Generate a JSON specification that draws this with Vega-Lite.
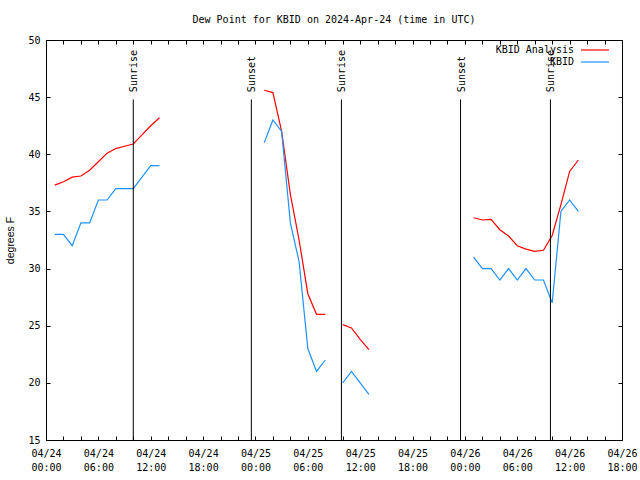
{
  "$schema": "https://vega.github.io/schema/vega-lite/v6.json",
  "width": 576,
  "height": 400,
  "autosize": "none",
  "padding": {"left": 46, "top": 40, "right": 18, "bottom": 40},
  "background": "white",
  "title": {
    "text": "Dew Point for KBID on 2024-Apr-24 (time in UTC)",
    "font": "DejaVu Sans Mono",
    "fontSize": 10,
    "fontWeight": "normal",
    "color": "black",
    "anchor": "middle",
    "offset": 10
  },
  "config": {
    "view": {"stroke": "black", "strokeWidth": 1},
    "axis": {
      "grid": false,
      "domain": false,
      "tickColor": "black",
      "tickSize": -4,
      "labelColor": "black",
      "labelFont": "DejaVu Sans Mono",
      "labelFontSize": 10
    }
  },
  "datasets": {
    "obs": [
      {"hour": 1, "dewpoint": 37.3, "series": "KBID Analysis", "segment": 1},
      {"hour": 2, "dewpoint": 37.6, "series": "KBID Analysis", "segment": 1},
      {"hour": 3, "dewpoint": 38.0, "series": "KBID Analysis", "segment": 1},
      {"hour": 4, "dewpoint": 38.1, "series": "KBID Analysis", "segment": 1},
      {"hour": 5, "dewpoint": 38.6, "series": "KBID Analysis", "segment": 1},
      {"hour": 6, "dewpoint": 39.35, "series": "KBID Analysis", "segment": 1},
      {"hour": 7, "dewpoint": 40.1, "series": "KBID Analysis", "segment": 1},
      {"hour": 8, "dewpoint": 40.5, "series": "KBID Analysis", "segment": 1},
      {"hour": 9, "dewpoint": 40.7, "series": "KBID Analysis", "segment": 1},
      {"hour": 10, "dewpoint": 40.9, "series": "KBID Analysis", "segment": 1},
      {"hour": 11, "dewpoint": 41.7, "series": "KBID Analysis", "segment": 1},
      {"hour": 12, "dewpoint": 42.5, "series": "KBID Analysis", "segment": 1},
      {"hour": 13, "dewpoint": 43.2, "series": "KBID Analysis", "segment": 1},
      {"hour": 25, "dewpoint": 45.6, "series": "KBID Analysis", "segment": 2},
      {"hour": 26, "dewpoint": 45.4, "series": "KBID Analysis", "segment": 2},
      {"hour": 27, "dewpoint": 42.0, "series": "KBID Analysis", "segment": 2},
      {"hour": 28, "dewpoint": 36.5, "series": "KBID Analysis", "segment": 2},
      {"hour": 29, "dewpoint": 32.5, "series": "KBID Analysis", "segment": 2},
      {"hour": 30, "dewpoint": 27.8, "series": "KBID Analysis", "segment": 2},
      {"hour": 31, "dewpoint": 26.0, "series": "KBID Analysis", "segment": 2},
      {"hour": 32, "dewpoint": 26.0, "series": "KBID Analysis", "segment": 2},
      {"hour": 34, "dewpoint": 25.1, "series": "KBID Analysis", "segment": 3},
      {"hour": 35, "dewpoint": 24.8, "series": "KBID Analysis", "segment": 3},
      {"hour": 36, "dewpoint": 23.8, "series": "KBID Analysis", "segment": 3},
      {"hour": 37, "dewpoint": 22.9, "series": "KBID Analysis", "segment": 3},
      {"hour": 49, "dewpoint": 34.45, "series": "KBID Analysis", "segment": 4},
      {"hour": 50, "dewpoint": 34.25, "series": "KBID Analysis", "segment": 4},
      {"hour": 51, "dewpoint": 34.3, "series": "KBID Analysis", "segment": 4},
      {"hour": 52, "dewpoint": 33.4, "series": "KBID Analysis", "segment": 4},
      {"hour": 53, "dewpoint": 32.85, "series": "KBID Analysis", "segment": 4},
      {"hour": 54, "dewpoint": 32.0, "series": "KBID Analysis", "segment": 4},
      {"hour": 55, "dewpoint": 31.7, "series": "KBID Analysis", "segment": 4},
      {"hour": 56, "dewpoint": 31.5, "series": "KBID Analysis", "segment": 4},
      {"hour": 57, "dewpoint": 31.6, "series": "KBID Analysis", "segment": 4},
      {"hour": 58, "dewpoint": 32.9, "series": "KBID Analysis", "segment": 4},
      {"hour": 59, "dewpoint": 35.6, "series": "KBID Analysis", "segment": 4},
      {"hour": 60, "dewpoint": 38.5, "series": "KBID Analysis", "segment": 4},
      {"hour": 61, "dewpoint": 39.5, "series": "KBID Analysis", "segment": 4},
      {"hour": 1, "dewpoint": 33, "series": "KBID", "segment": 1},
      {"hour": 2, "dewpoint": 33, "series": "KBID", "segment": 1},
      {"hour": 3, "dewpoint": 32, "series": "KBID", "segment": 1},
      {"hour": 4, "dewpoint": 34, "series": "KBID", "segment": 1},
      {"hour": 5, "dewpoint": 34, "series": "KBID", "segment": 1},
      {"hour": 6, "dewpoint": 36, "series": "KBID", "segment": 1},
      {"hour": 7, "dewpoint": 36, "series": "KBID", "segment": 1},
      {"hour": 8, "dewpoint": 37, "series": "KBID", "segment": 1},
      {"hour": 9, "dewpoint": 37, "series": "KBID", "segment": 1},
      {"hour": 10, "dewpoint": 37, "series": "KBID", "segment": 1},
      {"hour": 11, "dewpoint": 38, "series": "KBID", "segment": 1},
      {"hour": 12, "dewpoint": 39, "series": "KBID", "segment": 1},
      {"hour": 13, "dewpoint": 39, "series": "KBID", "segment": 1},
      {"hour": 25, "dewpoint": 41, "series": "KBID", "segment": 2},
      {"hour": 26, "dewpoint": 43, "series": "KBID", "segment": 2},
      {"hour": 27, "dewpoint": 42, "series": "KBID", "segment": 2},
      {"hour": 28, "dewpoint": 34, "series": "KBID", "segment": 2},
      {"hour": 29, "dewpoint": 30.6, "series": "KBID", "segment": 2},
      {"hour": 30, "dewpoint": 23, "series": "KBID", "segment": 2},
      {"hour": 31, "dewpoint": 21, "series": "KBID", "segment": 2},
      {"hour": 32, "dewpoint": 22, "series": "KBID", "segment": 2},
      {"hour": 34, "dewpoint": 20, "series": "KBID", "segment": 3},
      {"hour": 35, "dewpoint": 21, "series": "KBID", "segment": 3},
      {"hour": 36, "dewpoint": 20, "series": "KBID", "segment": 3},
      {"hour": 37, "dewpoint": 19, "series": "KBID", "segment": 3},
      {"hour": 49, "dewpoint": 31, "series": "KBID", "segment": 4},
      {"hour": 50, "dewpoint": 30, "series": "KBID", "segment": 4},
      {"hour": 51, "dewpoint": 30, "series": "KBID", "segment": 4},
      {"hour": 52, "dewpoint": 29, "series": "KBID", "segment": 4},
      {"hour": 53, "dewpoint": 30, "series": "KBID", "segment": 4},
      {"hour": 54, "dewpoint": 29, "series": "KBID", "segment": 4},
      {"hour": 55, "dewpoint": 30, "series": "KBID", "segment": 4},
      {"hour": 56, "dewpoint": 29, "series": "KBID", "segment": 4},
      {"hour": 57, "dewpoint": 29, "series": "KBID", "segment": 4},
      {"hour": 58, "dewpoint": 27, "series": "KBID", "segment": 4},
      {"hour": 59, "dewpoint": 35, "series": "KBID", "segment": 4},
      {"hour": 60, "dewpoint": 36, "series": "KBID", "segment": 4},
      {"hour": 61, "dewpoint": 35, "series": "KBID", "segment": 4}
    ],
    "events": [
      {"hour": 10.0, "event": "Sunrise"},
      {"hour": 23.53, "event": "Sunset"},
      {"hour": 33.85, "event": "Sunrise"},
      {"hour": 47.5, "event": "Sunset"},
      {"hour": 57.8, "event": "Sunrise"}
    ]
  },
  "layer": [
    {
      "data": {"name": "obs"},
      "mark": {"type": "line", "strokeWidth": 1.2},
      "encoding": {
        "x": {
          "field": "hour",
          "type": "quantitative",
          "scale": {"domain": [0, 66], "nice": false, "zero": false},
          "axis": {
            "orient": "bottom",
            "values": [0, 2, 4, 6, 8, 10, 12, 14, 16, 18, 20, 22, 24, 26, 28, 30, 32, 34, 36, 38, 40, 42, 44, 46, 48, 50, 52, 54, 56, 58, 60, 62, 64, 66],
            "labelExpr": "datum.value % 6 == 0 ? ['04/' + (24 + floor(datum.value / 24)), ((datum.value % 24) < 10 ? '0' : '') + (datum.value % 24) + ':00'] : ''",
            "labelFlush": false,
            "labelOverlap": false,
            "labelPadding": 12,
            "labelLineHeight": 14,
            "title": null
          }
        },
        "y": {
          "field": "dewpoint",
          "type": "quantitative",
          "scale": {"domain": [15, 50], "nice": false, "zero": false},
          "axis": {
            "orient": "left",
            "values": [15, 20, 25, 30, 35, 40, 45, 50],
            "labelPadding": 10,
            "title": "degrees F",
            "titleFont": "Liberation Sans",
            "titleFontSize": 10.5,
            "titleFontWeight": "normal",
            "titleColor": "black",
            "titlePadding": 12
          }
        },
        "color": {
          "field": "series",
          "type": "nominal",
          "scale": {"domain": ["KBID Analysis", "KBID"], "range": ["#ff0000", "#1e90ff"]},
          "legend": {
            "orient": "none",
            "legendX": 544,
            "legendY": 5,
            "title": null,
            "padding": 0,
            "symbolType": "M-7,0H7",
            "symbolSize": 16,
            "symbolStrokeWidth": 1.2,
            "rowPadding": 2,
            "labelAlign": "right",
            "labelOffset": -26,
            "labelFont": "DejaVu Sans Mono",
            "labelFontSize": 10,
            "labelColor": "black"
          }
        },
        "detail": {"field": "segment", "type": "nominal"}
      }
    },
    {
      "data": {"name": "events"},
      "mark": {"type": "rule", "color": "black", "strokeWidth": 1},
      "encoding": {
        "x": {
          "field": "hour",
          "type": "quantitative",
          "axis": {
            "orient": "top",
            "values": [0, 2, 4, 6, 8, 10, 12, 14, 16, 18, 20, 22, 24, 26, 28, 30, 32, 34, 36, 38, 40, 42, 44, 46, 48, 50, 52, 54, 56, 58, 60, 62, 64, 66],
            "labels": false,
            "title": null
          }
        },
        "y": {
          "datum": 15,
          "type": "quantitative",
          "axis": {"orient": "right", "values": [15, 20, 25, 30, 35, 40, 45, 50], "labels": false, "title": null}
        },
        "y2": {"datum": 44.8}
      }
    },
    {
      "data": {"name": "events"},
      "mark": {"type": "text", "angle": 270, "align": "left", "baseline": "middle", "dx": 5, "dy": 1, "font": "DejaVu Sans Mono", "fontSize": 10, "color": "black"},
      "encoding": {
        "x": {"field": "hour", "type": "quantitative", "axis": null},
        "y": {"datum": 45, "type": "quantitative", "axis": null},
        "text": {"field": "event"}
      }
    }
  ],
  "resolve": {"axis": {"x": "independent", "y": "independent"}}
}
